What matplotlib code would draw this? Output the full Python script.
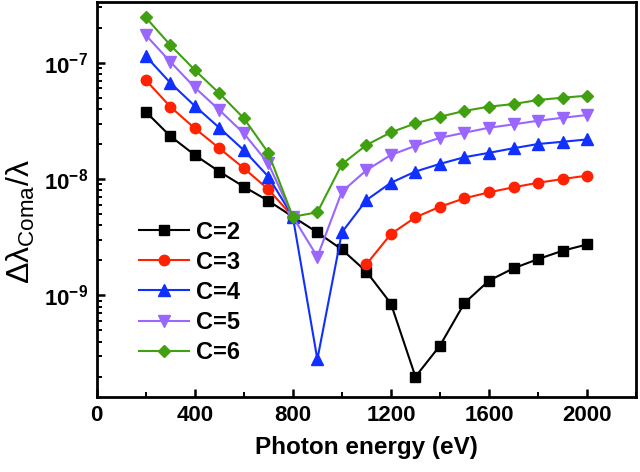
import numpy as np
import matplotlib
matplotlib.use('Agg')
from matplotlib import pyplot as plt
from matplotlib.ticker import LogLocator, MultipleLocator

plt.rcParams['font.family'] = ['Liberation Sans', 'DejaVu Sans']
plt.rcParams['font.weight'] = 'bold'
plt.rcParams['mathtext.fontset'] = 'custom'
plt.rcParams['mathtext.rm'] = 'Liberation Sans:weight=normal'
plt.rcParams['mathtext.bf'] = 'Liberation Sans:bold'
plt.rcParams['mathtext.it'] = 'Liberation Sans:italic:weight=normal'
plt.rcParams['mathtext.default'] = 'bf'

energy = [200, 300, 400, 500, 600, 700, 800, 900, 1000, 1100,
          1200, 1300, 1400, 1500, 1600, 1700, 1800, 1900, 2000]

c2 = [3.79e-8, 2.34e-8, 1.61e-8, 1.16e-8, 8.6e-9, 6.5e-9, 4.74e-9, 3.48e-9, 2.48e-9, 1.60e-9,
      8.5e-10, 2.0e-10, 3.7e-10, 8.6e-10, 1.34e-9, 1.71e-9, 2.05e-9, 2.42e-9, 2.74e-9]
c3 = [7.1e-8, 4.19e-8, 2.73e-8, 1.84e-8, 1.24e-8, 8.15e-9, 4.74e-9, np.nan, np.nan, 1.85e-9,
      3.37e-9, 4.69e-9, 5.78e-9, 6.83e-9, 7.69e-9, 8.49e-9, 9.29e-9, 1.0e-8, 1.07e-8]
c4 = [1.14e-7, 6.73e-8, 4.25e-8, 2.76e-8, 1.77e-8, 1.05e-8, 4.74e-9, 2.82e-10, 3.48e-9, 6.59e-9,
      9.29e-9, 1.16e-8, 1.35e-8, 1.54e-8, 1.68e-8, 1.84e-8, 2.0e-8, 2.09e-8, 2.19e-8]
c5 = [1.73e-7, 1.02e-7, 6.13e-8, 3.92e-8, 2.47e-8, 1.36e-8, 4.74e-9, 2.15e-9, 7.78e-9, 1.19e-8,
      1.61e-8, 1.93e-8, 2.26e-8, 2.50e-8, 2.76e-8, 2.95e-8, 3.17e-8, 3.36e-8, 3.55e-8]
c6 = [2.45e-7, 1.42e-7, 8.65e-8, 5.46e-8, 3.33e-8, 1.68e-8, 4.74e-9, 5.18e-9, 1.34e-8, 1.96e-8,
      2.52e-8, 3.01e-8, 3.43e-8, 3.85e-8, 4.19e-8, 4.41e-8, 4.78e-8, 5.0e-8, 5.2e-8]

series = [c2, c3, c4, c5, c6]
labels = ['C=2', 'C=3', 'C=4', 'C=5', 'C=6']
colors = ['#000000', '#ff2200', '#1030ff', '#9966ff', '#40a010']
markers = ['s', 'o', '^', 'v', 'D']
sizes = [7, 7.5, 8, 8, 6.5]

fig = plt.figure(figsize=(6.4, 4.72), dpi=100)
ax = fig.add_axes([0.151, 0.159, 0.843, 0.837])

for vals, lab, col, mk, ms in zip(series, labels, colors, markers, sizes):
    ax.plot(energy, vals, color=col, marker=mk, markersize=ms, lw=1.5, label=lab)

ax.set_yscale('log')
ax.set_xlim(0, 2200)
ax.set_ylim(1.34e-10, 3.33e-7)
ax.xaxis.set_major_locator(MultipleLocator(400))
ax.xaxis.set_minor_locator(MultipleLocator(200))
ax.yaxis.set_major_locator(LogLocator(base=10, numticks=10))
ax.yaxis.set_minor_locator(LogLocator(base=10, subs=np.arange(2, 10), numticks=10))

for s in ax.spines.values():
    s.set_linewidth(2)
ax.tick_params(which='major', direction='in', length=6, width=1.8, labelsize=16, pad=6)
ax.tick_params(which='minor', direction='in', length=3.5, width=1.4)
ax.tick_params(axis='y', which='minor', labelleft=False)

ax.set_xlabel('Photon energy (eV)', fontsize=17.5, fontweight='bold', labelpad=7)
ax.set_ylabel(r'$\mathrm{\Delta\lambda_{Coma}/\lambda}$', fontsize=23, fontweight='normal')
ax.yaxis.set_label_coords(-0.11, 0.443)

ax.legend(loc='lower left', bbox_to_anchor=(0.04, 0.03), frameon=False,
          fontsize=17, handlelength=2.1, handletextpad=0.3, labelspacing=0.3)

fig.savefig('out.png', dpi=100)
